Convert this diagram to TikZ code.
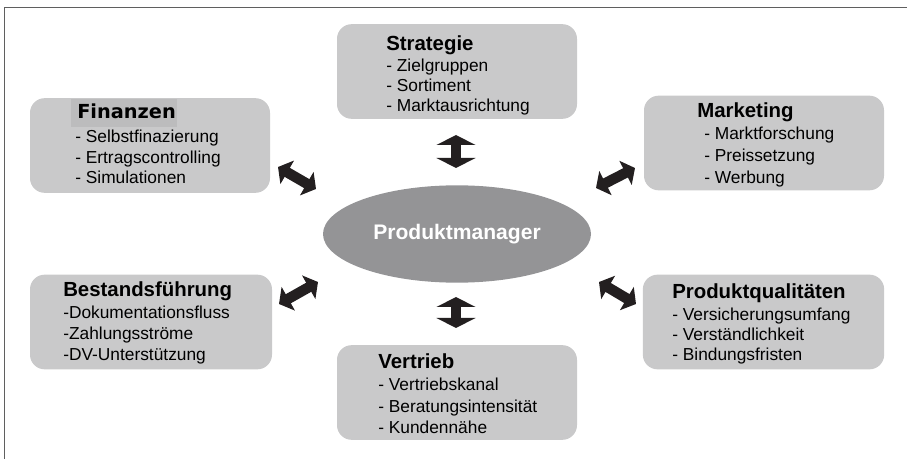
\documentclass[tikz,border=0pt]{standalone}
\usepackage{fontspec}
\setmainfont{Liberation Sans}
\newfontfamily\finfont{DejaVu Sans}
\usetikzlibrary{arrows.meta,shapes.geometric}
\definecolor{boxgray}{RGB}{201,201,202}
\definecolor{hlgray}{RGB}{188,188,189}
\definecolor{ellgray}{RGB}{148,148,150}
\definecolor{arrowblack}{RGB}{35,31,32}
\definecolor{framegray}{RGB}{95,95,95}
\begin{document}
\begin{tikzpicture}[x=0.75pt,y=-0.75pt,
  panel/.style={fill=boxgray, draw=none, rounded corners=11pt, inner sep=0pt,
    minimum width=180pt, minimum height=71pt},
  head/.style={anchor=base west, inner sep=0pt, font=\fontsize{15.3pt}{18pt}\selectfont\bfseries},
  item/.style={anchor=base west, inner sep=0pt, font=\fontsize{13pt}{15pt}\selectfont},
  bigarrow/.style={draw=arrowblack, line width=7.5pt,
    {Triangle[length=7.5pt,width=29pt]}-{Triangle[length=7.5pt,width=29pt]}},
  smallarrow/.style={draw=arrowblack, line width=7.8pt,
    {Triangle[length=8pt,width=20pt]}-{Triangle[length=8pt,width=20pt]}}]
\useasboundingbox (0,0) rectangle (907,459);

% frame: top and left rules only
\draw[framegray, line width=1.1pt] (907,7.5) -- (4.5,7.5) -- (4.5,459);

% central ellipse
\node[ellipse, fill=ellgray, draw=none, minimum width=201pt, minimum height=73pt,
  inner sep=0pt, text=white, font=\fontsize{15.8pt}{18pt}\selectfont\bfseries]
  (pm) at (457,234) {Produktmanager};

% Strategie
\node[panel] (strat) at (457,71.5) {};
\node[head] (strat-h) at (386,51) {Strategie};
\node[item] (strat-1) at (386,72) {- Zielgruppen};
\node[item] (strat-2) at (386,92) {- Sortiment};
\node[item] (strat-3) at (386,112) {- Marktausrichtung};

% Finanzen
\node[panel] (fin) at (150,145.5) {};
\node[fill=hlgray, inner sep=0pt, minimum width=79.5pt, minimum height=21pt] (fin-hl) at (124,113) {};
\node[anchor=base west, inner sep=0pt, font=\finfont\fontsize{14.5pt}{17pt}\selectfont\bfseries]
  (fin-h) at (77,119) {Finanzen};
\node[item] (fin-1) at (75,143) {- Selbstfinazierung};
\node[item] (fin-2) at (75,164) {- Ertragscontrolling};
\node[item] (fin-3) at (75,184) {- Simulationen};

% Marketing
\node[panel] (mkt) at (764,143) {};
\node[head] (mkt-h) at (697,118) {Marketing};
\node[item] (mkt-1) at (704,140) {- Marktforschung};
\node[item] (mkt-2) at (704,162) {- Preissetzung};
\node[item] (mkt-3) at (704,184) {- Werbung};

% Bestandsführung
\node[panel, minimum width=181.5pt] (best) at (151,322) {};
\node[head] (best-h) at (63,297) {Bestandsführung};
\node[item] (best-1) at (63,319) {-Dokumentationsfluss};
\node[item] (best-2) at (63,340) {-Zahlungsströme};
\node[item] (best-3) at (63,361) {-DV-Unterstützung};

% Produktqualitäten
\node[panel, minimum width=181pt] (qual) at (763.5,322) {};
\node[head] (qual-h) at (672,299) {Produktqualitäten};
\node[item] (qual-1) at (672,321) {- Versicherungsumfang};
\node[item] (qual-2) at (672,341) {- Verständlichkeit};
\node[item] (qual-3) at (672,361) {- Bindungsfristen};

% Vertrieb
\node[panel] (vert) at (457,392.5) {};
\node[head] (vert-h) at (378,369) {Vertrieb};
\node[item] (vert-1) at (378,391) {- Vertriebskanal};
\node[item] (vert-2) at (378,413) {- Beratungsintensität};
\node[item] (vert-3) at (378,434) {- Kundennähe};

% arrow end points between the panels and the centre
\coordinate (up-a) at (456,135);   \coordinate (up-b) at (456,168);
\coordinate (dn-a) at (456,297);   \coordinate (dn-b) at (456,328);
\coordinate (fin-a) at (278,167);  \coordinate (fin-b) at (316,189);
\coordinate (mkt-a) at (596,188);  \coordinate (mkt-b) at (635,168);
\coordinate (best-a) at (279,304); \coordinate (best-b) at (318,282);
\coordinate (qual-a) at (599,282); \coordinate (qual-b) at (636,304);

\draw[bigarrow] (up-a) -- (up-b);
\draw[bigarrow] (dn-a) -- (dn-b);
\draw[smallarrow] (fin-a) -- (fin-b);
\draw[smallarrow] (mkt-a) -- (mkt-b);
\draw[smallarrow] (best-a) -- (best-b);
\draw[smallarrow] (qual-a) -- (qual-b);
\end{tikzpicture}
\end{document}
